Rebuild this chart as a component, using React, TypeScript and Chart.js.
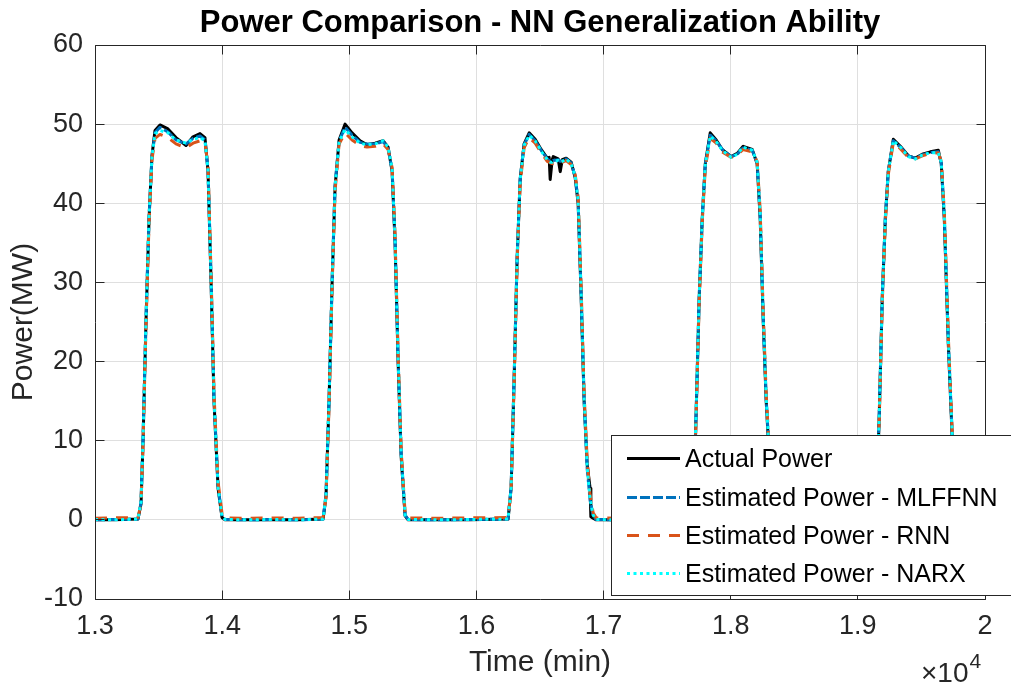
import React, { useEffect, useRef } from "react";
import { Chart, registerables } from "chart.js";

Chart.register(...registerables);

// ---------------- data (time in minutes, power in MW) ----------------
const time = [
  13000, 13150, 13338, 13362, 13378, 13401, 13425, 13448, 13472, 13511, 13574, 13637, 13716, 13771, 13826, 13865,
  13889, 13913, 13936, 13968, 13999, 14023, 14200, 14400, 14600, 14794, 14817, 14841, 14865, 14888, 14920, 14967,
  15022, 15085, 15140, 15203, 15266, 15305, 15337, 15360, 15384, 15408, 15439, 15463, 15700, 15950, 16249, 16273,
  16297, 16320, 16344, 16375, 16415, 16462, 16509, 16557, 16572, 16580, 16596, 16604, 16643, 16659, 16675, 16706,
  16745, 16777, 16800, 16824, 16847, 16871, 16894, 16900, 16918, 16942, 17100, 17300, 17500, 17697, 17713, 17729,
  17752, 17776, 17800, 17839, 17886, 17933, 18004, 18051, 18098, 18169, 18208, 18232, 18256, 18279, 18303, 18327,
  18358, 18600, 18900, 19137, 19152, 19168, 19192, 19216, 19239, 19279, 19334, 19397, 19452, 19507, 19570, 19633,
  19656, 19680, 19712, 19743, 19774, 19806, 19830, 20000,
];

const actualPower = [
  0, 0, 0.1, 2, 10, 25, 38, 46, 49.2, 49.9, 49.4, 48.3, 47.3, 48.4, 48.8, 48.3,
  44, 30, 15, 4, 0.3, 0, 0, 0, 0, 0.1, 3, 15, 30, 42, 48, 50,
  48.9, 47.9, 47.4, 47.6, 47.9, 47.1, 44, 35, 20, 8, 0.5, 0, 0, 0, 0.1, 4,
  18, 33, 43, 47.5, 48.9, 48.1, 46.8, 45.7, 45.8, 43.0, 45.5, 45.9, 45.6, 44.0, 45.5, 45.7,
  45.2, 43.2, 40, 28, 15, 7, 4.0, 0.4, 0.2, 0, 0, 0, 0, 0.1, 5, 14,
  28, 38, 45, 48.9, 48, 46.8, 45.9, 46.3, 47.2, 46.8, 45.0, 38, 25, 15, 8, 3,
  0.2, 0, 0, 0.1, 5, 13, 28, 38, 44, 48.1, 47.2, 46.0, 45.7, 46.2, 46.5, 46.7,
  45.0, 38, 22, 10, 3, 0.5, 0, 0,
];

const mlffnnPower = [
  0, 0.05, 0.1, 2.2, 10.5, 25.5, 38.3, 45.8, 48.9, 49.6, 49.0, 48.0, 47.5, 48.2, 48.5, 48.0,
  44.3, 30.5, 15.4, 4.2, 0.4, 0.05, 0, 0.05, 0, 0.1, 3.2, 15.3, 30.3, 42.2, 47.9, 49.6,
  48.6, 47.7, 47.5, 47.5, 47.8, 47.0, 44.2, 35.4, 20.4, 8.3, 0.6, 0.05, 0, 0.05, 0.1, 4.2,
  18.3, 33.2, 43.1, 47.4, 48.7, 47.9, 46.7, 45.6, 45.4, 45.3, 45.3, 45.4, 45.5, 45.3, 45.4, 45.6,
  45.1, 43.4, 40.3, 28.4, 15.3, 6.5, 2.5, 2.0, 0.5, 0.05, 0, 0.05, 0, 0.1, 5.2, 14.3,
  28.2, 38.2, 45, 48.6, 47.9, 46.8, 45.9, 46.2, 47.0, 46.7, 45.1, 38.4, 25.4, 15.3, 8.3, 3.2,
  0.3, 0.05, 0, 0.1, 5.2, 13.3, 28.2, 38.2, 44, 47.9, 47.1, 46.0, 45.7, 46.1, 46.4, 46.5,
  45.1, 38.4, 22.4, 10.3, 3.2, 0.6, 0.05, 0,
];

const rnnPower = [
  0.2, 0.25, 0.3, 2.0, 9.5, 24.5, 37.5, 45.5, 48.2, 48.7, 48.3, 47.5, 47.0, 47.6, 47.9, 47.6,
  44.8, 31, 16, 4.8, 0.8, 0.25, 0.2, 0.25, 0.2, 0.3, 2.8, 14.5, 29.5, 41.5, 47.5, 48.9,
  48.0, 47.3, 47.1, 47.2, 47.5, 46.8, 44.5, 36, 21, 8.8, 0.9, 0.25, 0.2, 0.25, 0.3, 3.8,
  17.5, 32.5, 42.5, 47.0, 48.3, 47.6, 46.4, 45.3, 45.2, 45.1, 45.0, 45.1, 45.2, 45.1, 45.2, 45.4,
  44.9, 43.6, 40.8, 29.2, 16, 7.5, 3.2, 2.6, 0.9, 0.25, 0.2, 0.25, 0.2, 0.3, 4.8, 13.5,
  27.5, 37.6, 44.5, 48.2, 47.6, 46.5, 45.8, 46.1, 46.8, 46.5, 45.3, 39, 26, 16, 8.8, 3.6,
  0.6, 0.25, 0.2, 0.3, 4.8, 12.6, 27.5, 37.6, 43.6, 47.7, 46.9, 45.8, 45.6, 46.0, 46.3, 46.4,
  45.3, 39, 23, 10.8, 3.6, 0.9, 0.25, 0.2,
];

const narxPower = [
  0.05, 0, 0.1, 2.3, 10.3, 25.2, 38.2, 45.9, 48.8, 49.2, 48.9, 48.0, 47.6, 48.1, 48.3, 47.9,
  44.2, 30.4, 15.3, 4.1, 0.4, 0.05, 0, 0.05, 0, 0.1, 3.1, 15.2, 30.2, 42.1, 47.8, 49.3,
  48.4, 47.6, 47.4, 47.5, 47.9, 47.1, 44.3, 35.5, 20.5, 8.4, 0.6, 0.05, 0, 0.05, 0.1, 4.1,
  18.2, 33.1, 43, 47.3, 48.6, 47.9, 46.6, 45.5, 45.3, 45.2, 45.2, 45.3, 45.4, 45.2, 45.3, 45.6,
  45.0, 43.4, 40.4, 28.5, 15.4, 6.6, 2.6, 2.1, 0.6, 0.05, 0, 0.05, 0, 0.1, 5.1, 14.2,
  28.1, 38.1, 44.9, 48.5, 47.8, 46.7, 45.8, 46.2, 47.1, 46.7, 45.2, 38.5, 25.5, 15.4, 8.4, 3.3,
  0.3, 0.05, 0, 0.1, 5.1, 13.2, 28.1, 38.1, 43.9, 47.9, 47.1, 45.9, 45.6, 46.1, 46.4, 46.4,
  45.2, 38.5, 22.5, 10.4, 3.3, 0.6, 0.05, 0,
];

const seriesNames = [
  "Actual Power",
  "Estimated Power - MLFFNN",
  "Estimated Power - RNN",
  "Estimated Power - NARX",
];

const xTickValues = [13000, 14000, 15000, 16000, 17000, 18000, 19000, 20000];
const xTickLabels = ["1.3", "1.4", "1.5", "1.6", "1.7", "1.8", "1.9", "2"];
const yTickValues = [-10, 0, 10, 20, 30, 40, 50, 60];

const chartTitle = "Power Comparison - NN Generalization Ability";
const xLabel = "Time (min)";
const yLabel = "Power(MW)";

// ---------------- styling ----------------
const FONT = '"Liberation Sans", Arial, Helvetica, sans-serif';
const AXIS_COLOR = "#262626";
const GRID_COLOR = "#DFDFDF";
const styles = [
  { color: "#000000", dash: [] as number[], width: 3 },
  { color: "#0072BD", dash: [10, 3], width: 3 },
  { color: "#D95319", dash: [12, 9], width: 3 },
  { color: "#00FFFF", dash: [3, 3.5], width: 3 },
];

const align = (p: number) => Math.round(p - 0.5) + 0.5;

const matlabPlugin = {
  id: "matlabDecor",
  afterDatasetsDraw(chart: any) {
    const { ctx, chartArea: a, scales } = chart;
    ctx.save();
    ctx.strokeStyle = AXIS_COLOR;
    ctx.lineWidth = 1;
    const L = align(a.left), R = align(a.right), T = align(a.top), B = align(a.bottom);
    ctx.beginPath();
    ctx.rect(L, T, R - L, B - T);
    const tl = 9;
    xTickValues.forEach((v) => {
      const x = align(scales.x.getPixelForValue(v));
      ctx.moveTo(x, B);
      ctx.lineTo(x, B - tl);
      ctx.moveTo(x, T);
      ctx.lineTo(x, T + tl);
    });
    yTickValues.forEach((v) => {
      const y = align(scales.y.getPixelForValue(v));
      ctx.moveTo(L, y);
      ctx.lineTo(L + tl, y);
      ctx.moveTo(R, y);
      ctx.lineTo(R - tl, y);
    });
    ctx.stroke();

    // exponent label
    ctx.fillStyle = AXIS_COLOR;
    ctx.textBaseline = "alphabetic";
    ctx.textAlign = "left";
    ctx.font = `28px ${FONT}`;
    ctx.fillText("\u00D710", 921, 682);
    const w = ctx.measureText("\u00D710").width;
    ctx.font = `21px ${FONT}`;
    ctx.fillText("4", 921 + w + 1, 668);
    ctx.restore();
  },
  afterDraw(chart: any) {
    const { ctx } = chart;
    ctx.save();
    const left = 611.5, top = 435.5, bottom = 595.5, right = 1020;
    ctx.fillStyle = "#FFFFFF";
    ctx.fillRect(left, top, right - left, bottom - top);
    ctx.strokeStyle = AXIS_COLOR;
    ctx.lineWidth = 1;
    ctx.strokeRect(left, top, right - left, bottom - top);
    const baselines = [467, 506, 544, 582];
    ctx.font = `25px ${FONT}`;
    ctx.textBaseline = "alphabetic";
    ctx.textAlign = "left";
    seriesNames.forEach((name, i) => {
      const ly = baselines[i] - 8.5;
      const s = styles[i];
      ctx.beginPath();
      ctx.strokeStyle = s.color;
      ctx.lineWidth = s.width;
      ctx.setLineDash(s.dash);
      ctx.moveTo(627, ly);
      ctx.lineTo(680, ly);
      ctx.stroke();
      ctx.setLineDash([]);
      ctx.fillStyle = "#000000";
      ctx.fillText(name, 685, baselines[i]);
    });
    ctx.restore();
  },
};

const seriesValues = [actualPower, mlffnnPower, rnnPower, narxPower];

export default function App() {
  const canvasRef = useRef<HTMLCanvasElement | null>(null);

  useEffect(() => {
    if (!canvasRef.current) return;
    Chart.defaults.font.family = FONT;
    const datasets = seriesNames.map((name, i) => ({
      label: name,
      data: time.map((t, k) => ({ x: t, y: seriesValues[i][k] })),
      borderColor: styles[i].color,
      backgroundColor: styles[i].color,
      borderWidth: styles[i].width,
      borderDash: styles[i].dash,
      borderCapStyle: "butt" as const,
      borderJoinStyle: "round" as const,
      pointRadius: 0,
      tension: 0,
      fill: false,
      order: 3 - i,
    }));

    const chart = new Chart(canvasRef.current, {
      type: "line",
      data: { datasets },
      plugins: [matlabPlugin],
      options: {
        animation: false,
        responsive: false,
        devicePixelRatio: 1,
        layout: { padding: { left: 0, right: 26, top: 0, bottom: 0 } },
        plugins: {
          legend: { display: false },
          tooltip: { enabled: false },
          title: {
            display: true,
            text: chartTitle,
            fullSize: false,
            color: "#000000",
            font: { size: 31, weight: "bold", family: FONT, lineHeight: 1 },
            padding: { top: 8, bottom: 6 },
          },
        },
        scales: {
          x: {
            type: "linear",
            min: 13000,
            max: 20000,
            afterBuildTicks: (scale: any) => {
              scale.ticks = xTickValues.map((v) => ({ value: v }));
            },
            afterFit: (scale: any) => {
              scale.height = 88;
            },
            ticks: {
              autoSkip: false,
              maxRotation: 0,
              color: AXIS_COLOR,
              font: { size: 27, family: FONT },
              padding: 11,
              callback: (v: any) => {
                const idx = xTickValues.indexOf(Number(v));
                return idx >= 0 ? xTickLabels[idx] : "";
              },
            },
            grid: { color: GRID_COLOR, lineWidth: 1, drawTicks: false },
            border: { display: false },
            title: {
              display: true,
              text: xLabel,
              color: AXIS_COLOR,
              font: { size: 30, family: FONT, lineHeight: 1.2 },
              padding: { top: 0, bottom: 6 },
            },
          },
          y: {
            type: "linear",
            min: -10,
            max: 60,
            afterBuildTicks: (scale: any) => {
              scale.ticks = yTickValues.map((v) => ({ value: v }));
            },
            afterFit: (scale: any) => {
              scale.width = 95;
            },
            ticks: {
              color: AXIS_COLOR,
              font: { size: 27, family: FONT },
              padding: 12,
            },
            grid: { color: GRID_COLOR, lineWidth: 1, drawTicks: false },
            border: { display: false },
            title: {
              display: true,
              text: yLabel,
              color: AXIS_COLOR,
              font: { size: 30, family: FONT, lineHeight: 1.2 },
              padding: { top: 6, bottom: 0 },
            },
          },
        },
      },
    });
    return () => chart.destroy();
  }, []);

  return (
    <div style={{ position: "fixed", left: 0, top: 0, width: 1011, height: 687, background: "#fff" }}>
      <canvas ref={canvasRef} width={1011} height={687} />
    </div>
  );
}
